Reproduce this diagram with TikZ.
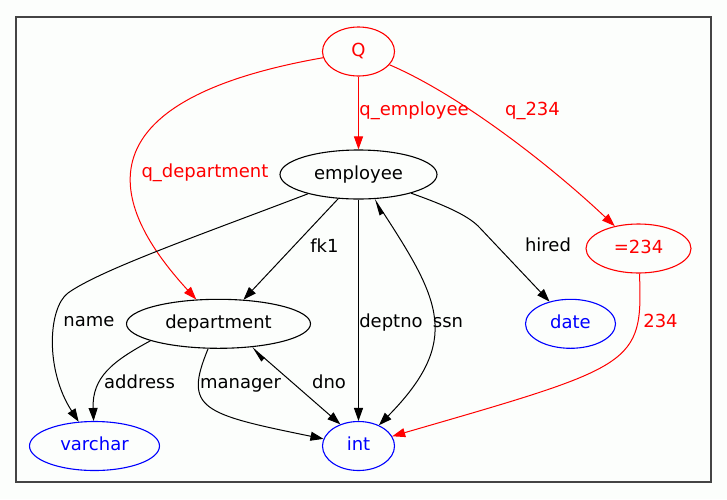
\documentclass[tikz,border=0pt]{standalone}
\usepackage{fontspec}
\setmainfont{DejaVu Sans}
\usetikzlibrary{arrows.meta, shapes.geometric}
\definecolor{framegray}{HTML}{444444}
\definecolor{paper}{HTML}{FCFEFC}
\tikzset{
	font = \fontsize{18}{22}\selectfont,
	>={Triangle[length=13pt, width=9pt]},
	relnode/.style={
		draw,
		ellipse,
		line width=1.1pt,
		inner sep=0pt,
		minimum height=49pt,
		text height=13pt,
		text depth=4pt
	},
	tablenode/.style={relnode, black},
	typenode/.style={relnode, blue, text=blue},
	querynode/.style={relnode, red, text=red},
	edge/.style={
		->,
		line width=1pt
	},
	qedge/.style={edge, red},
	backedge/.style={
		{Triangle[harpoon, length=15pt, width=9pt]}->,
		line width=1pt
	},
	lbl/.style={inner sep=0pt, text height=13pt, text depth=4pt},
	qlbl/.style={lbl, text=red}
}

\begin{document}
\begin{tikzpicture}[x=1pt, y=-1pt]
	\fill[paper] (0,0) rectangle (727,499);
	\useasboundingbox (0,0) rectangle (727,499);
	\draw[framegray, line width=2pt] (16,17) rectangle (711,482);

	\node[querynode, minimum width=72pt] (q) at (358.5,51.5) {Q};
	\node[tablenode, minimum width=157pt] (employee) at (358.5,174.5) {employee};
	\node[querynode, minimum width=105pt] (eq) at (638.5,248.5) {=234};
	\node[tablenode, minimum width=184pt] (department) at (218.5,323.8) {department};
	\node[typenode, minimum width=90pt] (date) at (570.5,323.8) {date};
	\node[typenode, minimum width=130pt] (varchar) at (94.5,446) {varchar};
	\node[typenode, minimum width=72pt] (int) at (358.5,446) {int};

	\draw[qedge] (q) -- (employee);
	\draw[qedge] (q) .. controls (48,106) and (131,228) .. (department);
	\draw[qedge] (q) .. controls (460,95) and (550,165) .. (eq);
	\draw[qedge] (eq) .. controls (643,365) and (635,366) .. (int);

	\draw[edge] (employee.230) -- (department.44);
	\draw[edge] (employee) .. controls (200,235) and (100,270) .. (68,293)
		.. controls (48,308) and (45,370) .. (varchar);
	\draw[edge] (employee) -- (int);
	\draw[backedge] (employee) .. controls (440,300) and (462,341) .. (int);
	\draw[edge] (employee) .. controls (450,207) and (470,217) .. (480,228) -- (date);
	\draw[edge] (department.194) .. controls (113,361) and (92,377) .. (varchar);
	\draw[edge] (department) .. controls (183,409) and (202,414) .. (int);
	\draw[backedge] (department.325) -- (int.130);

	\node[qlbl] (l-qemp) at (414,111) {q\_employee};
	\node[qlbl] (l-q234) at (532.5,111) {q\_234};
	\node[qlbl] (l-qdept) at (205,173.3) {q\_department};
	\node[qlbl] (l-234) at (660.5,323) {234};
	\node[lbl] (l-fk1) at (324.5,247.7) {fk1};
	\node[lbl] (l-hired) at (548,247) {hired};
	\node[lbl] (l-name) at (89,322.3) {name};
	\node[lbl] (l-deptno) at (391,323) {deptno};
	\node[lbl] (l-ssn) at (448,323) {ssn};
	\node[lbl] (l-address) at (139.5,383.7) {address};
	\node[lbl] (l-manager) at (240.5,383.7) {manager};
	\node[lbl] (l-dno) at (329,383.7) {dno};
\end{tikzpicture}
\end{document}
